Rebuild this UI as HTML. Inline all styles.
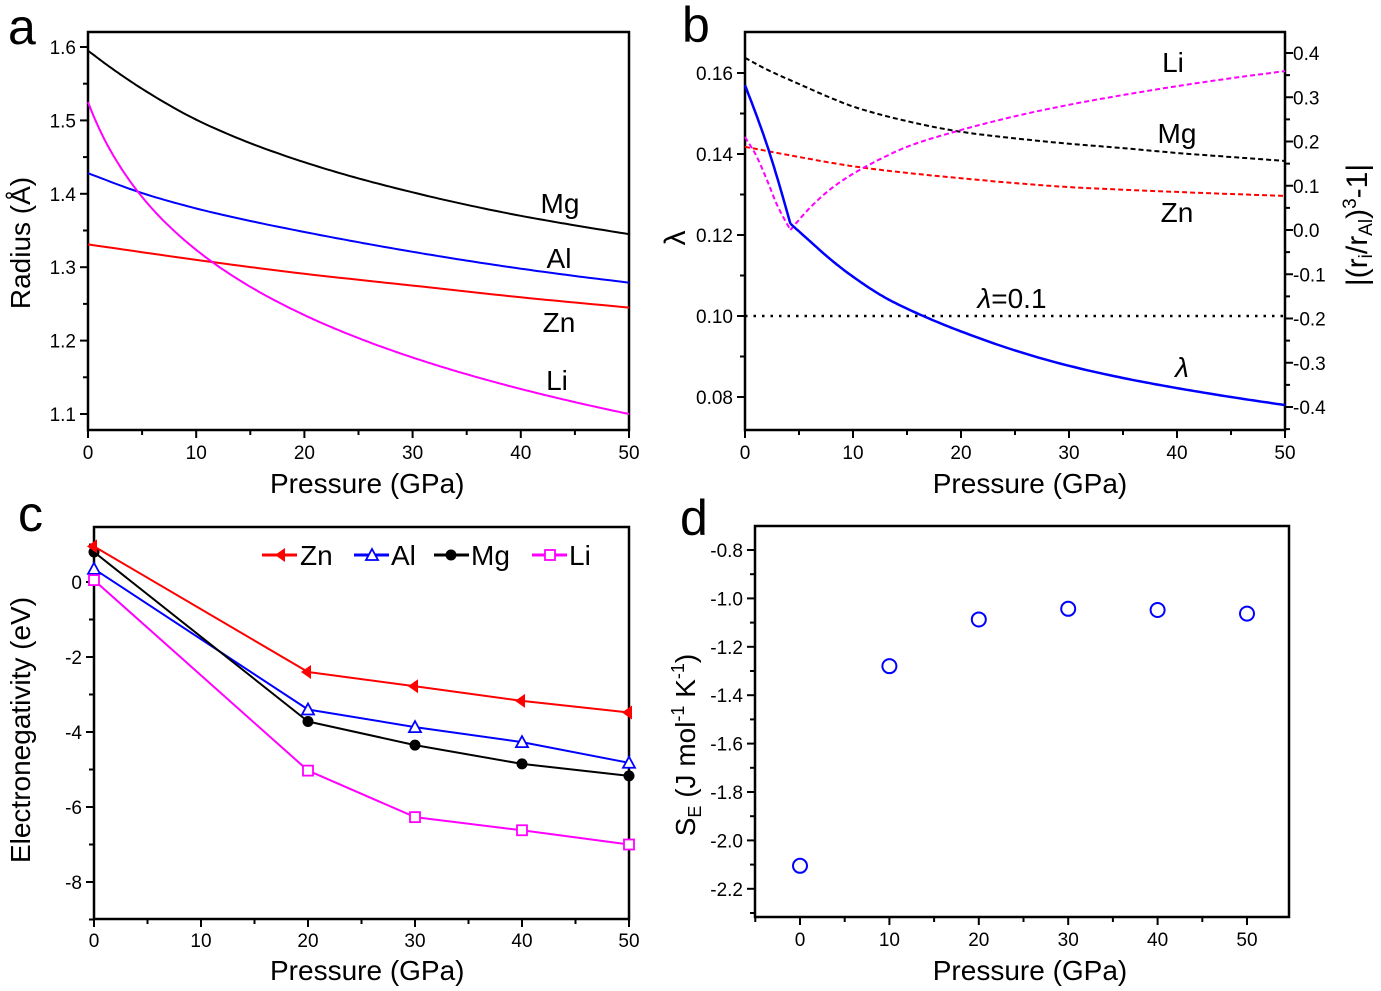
<!DOCTYPE html>
<html><head><meta charset="utf-8"><style>
body{margin:0;background:#fff;}
svg{display:block;font-family:"Liberation Sans",Arial,sans-serif;}
</style></head><body>
<svg id="s" width="1381" height="991" viewBox="0 0 1381 991" xmlns="http://www.w3.org/2000/svg"></svg>
<script>
const S=document.getElementById('s');let H='';
const FS=19;
function add(x){H+=x;}
function ln(x1,y1,x2,y2,c='#000',w=2){add(`<line x1="${x1}" y1="${y1}" x2="${x2}" y2="${y2}" stroke="${c}" stroke-width="${w}"/>`);}
function tx(x,y,t,sz,anc='middle',extra=''){add(`<text x="${x}" y="${y}" font-size="${sz}" text-anchor="${anc}" ${extra}>${t}</text>`);}
function mono(pts,N){
 const n=pts.length,xs=pts.map(p=>p[0]),ys=pts.map(p=>p[1]);
 const d=[],h=[];for(let i=0;i<n-1;i++){h[i]=xs[i+1]-xs[i];d[i]=(ys[i+1]-ys[i])/h[i];}
 const m=[d[0]];for(let i=1;i<n-1;i++){if(d[i-1]*d[i]<=0)m[i]=0;else{const w1=2*h[i]+h[i-1],w2=h[i]+2*h[i-1];m[i]=(w1+w2)/(w1/d[i-1]+w2/d[i]);}}m[n-1]=d[n-2];
 const out=[];for(let i=0;i<n-1;i++){for(let k=0;k<N;k++){const t=k/N,t2=t*t,t3=t2*t;
 const y=(2*t3-3*t2+1)*ys[i]+(t3-2*t2+t)*h[i]*m[i]+(-2*t3+3*t2)*ys[i+1]+(t3-t2)*h[i]*m[i+1];
 out.push([xs[i]+t*h[i],y]);}}out.push(pts[n-1]);return out;}
function path(pts,c,w,dash=''){add(`<polyline fill="none" stroke="${c}" stroke-width="${w}" stroke-linejoin="round" ${dash?`stroke-dasharray="${dash}"`:''} points="${pts.map(p=>p[0].toFixed(1)+','+p[1].toFixed(1)).join(' ')}"/>`);}
function frame(L,R,T,B){add(`<rect x="${L}" y="${T}" width="${R-L}" height="${B-T}" fill="none" stroke="#000" stroke-width="2.5"/>`);}

// ---------- Panel a ----------
{const L=88,R=629,T=32,B=430;const X=p=>L+(R-L)*p/50,Y=v=>47+(1.6-v)/0.1*73.4;
frame(L,R,T,B);
for(let p=0;p<=50;p+=5){ln(X(p),B,X(p),B+(p%10?5:8));if(p%10==0)tx(X(p),B+29,p,FS);}
for(let v=1.1;v<=1.61;v+=0.05){const y=Y(v);const maj=Math.round(v*100)%10==0;ln(L,y,L-(maj?8:5),y);if(maj)tx(L-12,y+7,v.toFixed(1),FS,'end');}
const c=(d,col)=>path(mono(d,12).map(q=>[X(q[0]),Y(q[1])]),col,2);
c([[0,1.595],[2,1.573],[5,1.543],[10,1.501],[15,1.469],[20,1.443],[25,1.421],[30,1.402],[35,1.385],[40,1.37],[45,1.357],[50,1.345]],'#000');
c([[0,1.428],[5,1.401],[10,1.38],[15,1.363],[20,1.348],[25,1.334],[30,1.321],[35,1.309],[40,1.298],[45,1.288],[50,1.279]],'#0000ff');
c([[0,1.331],[10,1.31],[20,1.291],[30,1.275],[40,1.259],[50,1.245]],'#ff0000');
{const li=[];for(let p=0;p<=50.001;p+=0.25)li.push([X(p),Y(1.525-0.1676*Math.log(1+p/4.3))]);path(li,'#ff00ff',2);}
tx(560,213,'Mg',28);tx(559,268,'Al',28);tx(559,332,'Zn',28);tx(557,390,'Li',28);
tx(270,493,'Pressure (GPa)',28,'start');
tx(30,243,'Radius (Å)',28,'middle','transform="rotate(-90 30 243)"');
tx(8,44,'a',50,'start');}

// ---------- Panel b ----------
{const L=745,R=1285,T=32,B=430;const X=p=>L+(R-L)*p/50,Y=v=>73+(0.16-v)/0.02*81,Yr=v=>53+(0.4-v)/0.1*44.25;
frame(L,R,T,B);
for(let p=0;p<=50;p+=5){ln(X(p),B,X(p),B+(p%10?5:8));if(p%10==0)tx(X(p),B+29,p,FS);}
for(let i=0;i<=9;i++){const v=0.07+i*0.01;const y=Y(v);if(y<T||y>B)continue;const maj=i%2==1;ln(L,y,L-(maj?8:5),y);if(maj)tx(L-12,y+7,v.toFixed(2),FS,'end');}
for(let i=-9;i<=9;i++){const v=i*0.05;const y=Yr(v);if(y<T||y>B)continue;const maj=i%2==0;ln(R,y,R+(maj?8:5),y);if(maj)tx(R+8,y+7,(v<0?'-':'')+Math.abs(v).toFixed(1),FS,'start');}
add(`<line x1="${X(0)}" y1="${Y(0.1)}" x2="${R}" y2="${Y(0.1)}" stroke="#000" stroke-width="2.5" stroke-dasharray="2.5 6"/>`);
const cr=(d,col)=>path(mono(d,12).map(q=>[X(q[0]),Yr(q[1])]),col,2,'5 3');
cr([[0,0.389],[2,0.363],[5,0.33],[8,0.298],[10,0.279],[15,0.246],[20,0.222],[25,0.207],[30,0.195],[35,0.185],[40,0.174],[45,0.165],[50,0.156]],'#000');
cr([[0,0.188],[5,0.165],[10,0.144],[15,0.129],[20,0.117],[25,0.106],[30,0.097],[40,0.086],[50,0.077]],'#ff0000');
cr([[0,0.21],[1,0.17],[2,0.115],[3,0.055],[4.2,0.0]],'#ff00ff');
cr([[4.2,0.0],[6,0.05],[8,0.094],[10,0.127],[12.5,0.16],[15,0.188],[20,0.226],[25,0.257],[30,0.283],[35,0.305],[40,0.325],[45,0.343],[50,0.359]],'#ff00ff');
path(mono([[0,0.157],[1,0.150],[2,0.1425],[3,0.134],[4.2,0.1228]],10).map(q=>[X(q[0]),Y(q[1])]),'#0000ff',2.5);
path(mono([[4.2,0.1228],[6,0.1185],[8,0.1138],[10,0.1097],[13,0.1045],[16.5,0.1],[20,0.0962],[25,0.0915],[30,0.0877],[35,0.0847],[40,0.0822],[45,0.080],[50,0.078]],12).map(q=>[X(q[0]),Y(q[1])]),'#0000ff',2.5);
tx(1173,72,'Li',28);tx(1177,143,'Mg',28);tx(1177,222,'Zn',28);
tx(1012,308,'<tspan font-style="italic">λ</tspan>=0.1',28);tx(1182,377,'λ',28,'middle','font-style="italic"');
tx(1030,493,'Pressure (GPa)',28);
tx(685,238,'λ',30,'middle','transform="rotate(-90 685 238)"');
tx(1367,225,'|(r<tspan font-size="19" dy="5">i</tspan><tspan dy="-5">/r</tspan><tspan font-size="19" dy="5">Al</tspan><tspan dy="-5">)</tspan><tspan font-size="19" dy="-11">3</tspan><tspan dy="11">-1|</tspan>',30,'middle','transform="rotate(-90 1367 225)"');
tx(682,42,'b',50,'start');}

// ---------- Panel c ----------
{const L=94,R=629,T=527,B=919;const X=p=>L+(R-L)*p/50,Y=v=>582-v*37.5;
frame(L,R,T,B);
for(let p=0;p<=50;p+=5){ln(X(p),B,X(p),B+(p%10?5:8));if(p%10==0)tx(X(p),B+28,p,FS);}
for(let v=-9;v<=1;v++){const y=Y(v);const maj=v%2==0;ln(L,y,L-(maj?8:5),y);if(maj)tx(L-12,y+7,v,FS,'end');}
const ps=[0,20,30,40,50];
const ser=(vals,col,mk)=>{path(ps.map((p,i)=>[X(p),Y(vals[i])]),col,2);ps.forEach((p,i)=>mk(X(p),Y(vals[i]),col));};
const tri=(x,y,c)=>add(`<polygon points="${x-7},${y} ${x+3},${y-7} ${x+3},${y+7}" fill="${c}"/>`);
const otri=(x,y,c)=>add(`<polygon points="${x},${y-6} ${x+6},${y+5} ${x-6},${y+5}" fill="#fff" stroke="${c}" stroke-width="1.8"/>`);
const dot=(x,y,c)=>add(`<circle cx="${x}" cy="${y}" r="5.5" fill="${c}"/>`);
const sq=(x,y,c)=>add(`<rect x="${x-5}" y="${y-5}" width="10" height="10" fill="#fff" stroke="${c}" stroke-width="1.8"/>`);
ser([0.35,-3.4,-3.87,-4.27,-4.82],'#0000ff',otri);
ser([0.05,-5.03,-6.27,-6.62,-7.0],'#ff00ff',sq);
ser([0.8,-3.72,-4.35,-4.85,-5.17],'#000',dot);
ser([0.95,-2.4,-2.78,-3.17,-3.48],'#ff0000',tri);
const ly=555;
ln(262,ly,297,ly,'#ff0000',3);tri(282,ly,'#ff0000');tx(300,ly+10,'Zn',28,'start');
ln(354,ly,389,ly,'#0000ff',3);otri(372,ly,'#0000ff');tx(391,ly+10,'Al',28,'start');
ln(434,ly,469,ly,'#000',3);dot(451,ly,'#000');tx(471,ly+10,'Mg',28,'start');
ln(532,ly,567,ly,'#ff00ff',3);sq(550,ly,'#ff00ff');tx(569,ly+10,'Li',28,'start');
tx(270,980,'Pressure (GPa)',28,'start');
tx(30,730,'Electronegativity (eV)',28,'middle','transform="rotate(-90 30 730)"');
tx(18,531,'c',50,'start');}

// ---------- Panel d ----------
{const L=755,R=1289,T=526,B=917;const X=p=>800+p*8.94,Y=v=>550+(-0.8-v)/0.2*48.4;
frame(L,R,T,B);
for(let p=-5;p<=55;p+=5){const x=X(p);if(x<L||x>R)continue;ln(x,B,x,B+(p%10?5:8));if(p%10==0&&p>=0&&p<=50)tx(x,B+29,p,FS);}
for(let i=-23;i<=-7;i++){const v=i/10;const y=Y(v);if(y<T||y>B)continue;const maj=i%2==0;ln(L,y,L-(maj?8:5),y);if(maj)tx(L-12,y+7,v.toFixed(1),FS,'end');}
[[0,-2.105],[10,-1.28],[20,-1.087],[30,-1.043],[40,-1.048],[50,-1.063]].forEach(q=>add(`<circle cx="${X(q[0])}" cy="${Y(q[1])}" r="7" fill="none" stroke="#0000ff" stroke-width="2"/>`));
tx(1030,980,'Pressure (GPa)',28);
tx(695,745,'S<tspan font-size="18" dy="6">E</tspan><tspan dy="-6"> (J mol</tspan><tspan font-size="18" dy="-11">-1</tspan><tspan dy="11"> K</tspan><tspan font-size="18" dy="-11">-1</tspan><tspan dy="11">)</tspan>',28,'middle','transform="rotate(-90 695 745)"');
tx(680,535,'d',50,'start');}
S.innerHTML=H;
</script>
</body></html>
